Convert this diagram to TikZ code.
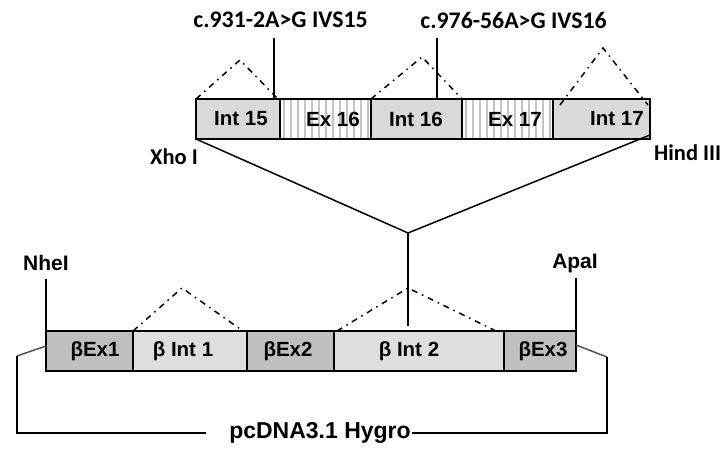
\documentclass[tikz,border=0pt]{standalone}
\usepackage{fontspec}
\setmainfont{Liberation Sans}
\newfontfamily\calfont{Carlito}
\definecolor{intgray}{HTML}{D9D9D9}
\definecolor{exdark}{HTML}{BFBFBF}
\definecolor{intlight}{HTML}{DEDEDE}
\definecolor{stripegray}{HTML}{C4C4C4}
\definecolor{stubblue}{HTML}{44546A}
\begin{document}
\begin{tikzpicture}[x=1pt,y=-1pt,
  box/.style={draw,line width=1.8pt,minimum height=40pt,inner sep=0pt,outer sep=0pt,anchor=north west},
  exstripe/.style={box,fill=white,path picture={
      \foreach \k in {0,...,12}{
        \draw[stripegray,line width=1.6pt]
          ([xshift=4pt+7pt*\k]path picture bounding box.north west) --
          ([xshift=4pt+7pt*\k]path picture bounding box.south west);}}},
  lbl/.style={font=\bfseries\fontsize{20.5}{22}\selectfont,inner sep=0pt},
  mut/.style={font=\calfont\bfseries\fontsize{23.8}{26}\selectfont,inner sep=0pt},
  site/.style={font=\calfont\bfseries\fontsize{22.5}{24}\selectfont,inner sep=0pt},
  enz/.style={font=\bfseries\fontsize{21}{22}\selectfont,inner sep=0pt},
  splice/.style={line width=1.5pt,dash pattern=on 6pt off 5pt on 1.5pt off 5pt},
  thin/.style={line width=1.5pt},
  mutline/.style={line width=2.8pt},
  stub/.style={line width=1.5pt,stubblue}]
\useasboundingbox (0,0) rectangle (725,452);

% top insert
\node[box,fill=intgray,minimum width=84pt] (i15) at (196,99) {};
\node[exstripe,minimum width=91pt] (e16) at (280,99) {};
\node[box,fill=intgray,minimum width=91pt] (i16) at (371,99) {};
\node[exstripe,minimum width=91pt] (e17) at (462,99) {};
\node[box,fill=intgray,minimum width=97pt] (i17) at (553,99) {};

\node[lbl] (t15) at (241,119) {Int 15};
\node[lbl] (t16e) at (333,119) {Ex 16};
\node[lbl] (t16) at (416,119) {Int 16};
\node[lbl] (t17e) at (515,119) {Ex 17};
\node[lbl] (t17) at (617,119) {Int 17};

% splicing (top)
\coordinate (a1) at (240,60);
\coordinate (a2) at (422,57);
\coordinate (a3) at (603,48);
\draw[splice] (i15.north west) -- (a1) -- ([xshift=-2pt]i15.north east);
\draw[splice] (e16.north east) -- (a2) -- (e17.north west);
\draw[splice] ([shift={(7pt,-6pt)}]i17.north west) -- (a3) -- ([shift={(-2pt,-6pt)}]i17.north east);

% mutations
\node[mut] (m1) at (280.5,20) {c.931-2A>G IVS15};
\node[mut] (m2) at (513.5,20) {c.976-56A>G IVS16};
\coordinate (m1b) at (274,38);
\coordinate (m2b) at (437,38);
\draw[mutline] (m1b) -- (m1b |- i15.north);
\draw[mutline] (m2b) -- (m2b |- i16.north);

% sites
\node[site,anchor=east] (xho) at (198,157) {Xho I};
\node[site,anchor=west] (hind) at (654,153) {Hind III};

% funnel
\coordinate (apex) at (408,233);
\draw[thin] (i15.south west) -- (apex) -- ([yshift=4pt]i17.south east);
\draw[thin] (apex) -- (408,326);

% bottom construct
\node[box,fill=exdark,minimum width=87pt] (x1) at (46,331) {};
\node[box,fill=intlight,minimum width=114pt] (n1) at (133,331) {};
\node[box,fill=exdark,minimum width=87pt] (x2) at (247,331) {};
\node[box,fill=intlight,minimum width=170pt] (n2) at (334,331) {};
\node[box,fill=exdark,minimum width=72pt] (x3) at (504,331) {};

\node[lbl] (tx1) at (95,351) {βEx1};
\node[lbl] (tn1) at (183,351) {β Int 1};
\node[lbl] (tx2) at (288,351) {βEx2};
\node[lbl] (tn2) at (409,351) {β Int 2};
\node[lbl] (tx3) at (543,351) {βEx3};

\coordinate (b1) at (182,288);
\coordinate (b2) at (408,288);
\draw[splice] (x1.north east) -- (b1) -- ([xshift=-4pt]n1.north east);
\draw[splice] ([xshift=3pt]n2.north west) -- (b2) -- ([xshift=-8pt]n2.north east);

% enzymes
\node[enz] (nhe) at (46,263) {NheI};
\node[enz] (apa) at (575,263) {ApaI};
\draw[thin] (x1.north west) -- (46,279);
\draw[thin] (x3.north east) -- (576,278);

% vector
\node[font=\bfseries\fontsize{23}{24}\selectfont,inner sep=0pt] (pc) at (320,433) {pcDNA3.1 Hygro};
\coordinate (l1) at (17,356);
\coordinate (r1) at (607,357);
\draw[stub] ([yshift=5pt]x1.west) -- (l1);
\draw[thin] (l1) -- (l1 |- pc.west) -- ([xshift=-23pt]pc.west);
\draw[stub] ([yshift=6pt]x3.east) -- (r1);
\draw[thin] (r1) -- (r1 |- pc.east) -- ([xshift=1pt]pc.east);
\end{tikzpicture}
\end{document}
